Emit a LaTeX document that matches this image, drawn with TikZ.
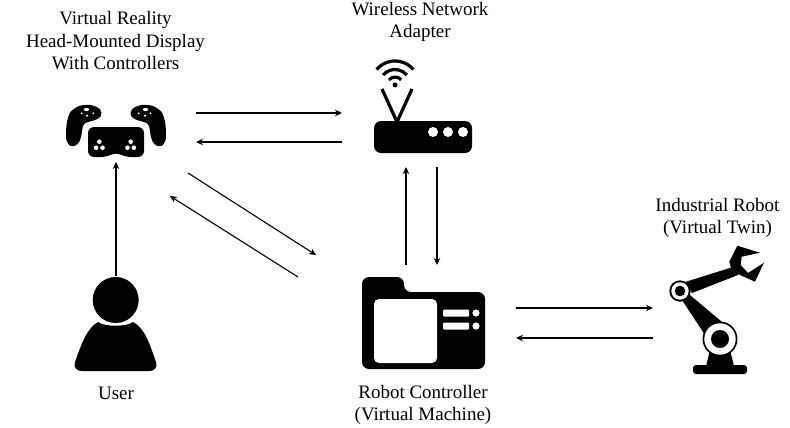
\documentclass[tikz,border=0pt]{standalone}
\usepackage{fontspec}
\setmainfont{Liberation Serif}
\usetikzlibrary{arrows.meta}
\tikzset{
	link/.style={line width=1.1pt, -{Stealth[length=7pt,width=6.5pt]}},
	caption/.style={align=center, font=\fontsize{19}{22.5}\selectfont, inner sep=0pt},
	hole/.style={fill=white, draw=none}
}
\begin{document}
\begin{tikzpicture}[x=1pt,y=-1pt]
\useasboundingbox (0,0) rectangle (790,428);

% Textos
	\node[caption] (hmdtext) at (115.5,41) {Virtual Reality\\Head-Mounted Display\\With Controllers};
	\node[caption] (adaptertext) at (420,22) {Wireless Network\\Adapter};
	\node[caption] (robottext) at (717.5,218) {Industrial Robot\\(Virtual Twin)};
	\node[caption] (usertext) at (116,393) {User};
	\node[caption] (controllertext) at (423,405) {Robot Controller\\(Virtual Machine)};

% Gafas y mandos
	\foreach \m in {1,-1} {
		\begin{scope}[shift={(116,0)},xscale=\m]
			\fill plot[smooth cycle,tension=0.8] coordinates {(-50,135) (-47.7,116.7) (-41,108.3) (-31,105) (-20,106.7) (-14.5,112.7) (-18.5,119) (-28,122) (-33,126) (-35,137) (-38.5,144) (-43.7,146) (-47.7,143.8)};
			\fill[hole] (-29.5,109.5) ellipse (2.6 and 1.7);
			\fill[hole] (-29,115.7) circle (1.2);
			\fill[hole] (-34.3,113.3) circle (1);
			\fill[hole] (-22.7,113.3) circle (1);
		\end{scope}
	}

	\fill[rounded corners=6pt] (88,127) -- (144,127) -- (144,157) -- (125,157) -- (116,152) -- (107,157) -- (88,157) -- cycle;
	\foreach \x in {99.3,130.7} {
		\fill[hole] (\x,141.7) circle (2.3);
		\fill[hole] (\x-3.2,147.7) circle (2.3);
		\fill[hole] (\x+3.2,147.7) circle (2.3);
	}

% Adaptador
	\fill[rounded corners=7pt] (374,121) rectangle (472,153);
	\foreach \x in {433,448,463}
		\fill[hole] (\x,132) circle (5);
	\draw[line width=3.2pt] (382,89) -- (397,122) -- (412,89);
	\fill (395,85) circle (2.5);
	\foreach \r in {8,15.5,24}
		\draw[line width=3.2pt] (395,85) ++(220:\r) arc (220:320:\r);

% Usuario
	\fill (115.7,300) circle (23);
	\fill (98,322) .. controls (104,327) and (127,327) .. (133,322)
		.. controls (145,328) and (150,345) .. (156,362)
		.. controls (158,368) and (154,371) .. (149,371) -- (82,371)
		.. controls (77,371) and (73,368) .. (75,362)
		.. controls (81,345) and (87,328) .. (98,322) -- cycle;

% Controlador
	\fill[rounded corners=7pt] (362,277) -- (404,277) -- (404,292) -- (485,292) -- (485,369) -- (362,369) -- cycle;
	\fill[hole,rounded corners=5pt] (374,299) rectangle (437,363);
	\foreach \y in {313,326} {
		\fill[hole,rounded corners=1pt] (443,\y-3.5) rectangle (469,\y+3.5);
		\fill[hole] (476,\y) circle (3.6);
	}

% Robot
	\fill[rounded corners=3pt] (693,365) rectangle (747,374);
	\fill (706,366) -- (710,350) -- (730,350) -- (734,366) -- cycle;
	\fill (690,295) -- (722,322) -- (705,335) -- (682,300) -- cycle;
	\fill (686,281.7) -- (733,267) -- (738,275) -- (692,293) -- cycle;
	\fill (737.3,245.7) -- (760,252.7) -- (741.7,256.7) -- (740.7,265) -- (748,273) -- (764,262.7) -- (755,281.7) -- (740,275) -- (732,272) -- (729.3,261.7) -- cycle;
	\fill (720,339) circle (17.5);
	\fill[hole] (720,339) circle (15.7);
	\fill (720,339) circle (9);
	\fill (680,291) circle (10.7);
	\fill[hole] (680,291) circle (8.7);
	\fill (680,291) circle (5.3);

% Flechas
	\coordinate (hmdright) at (196,113);
	\coordinate (adapterleft) at (342,113);
	\coordinate (adapterback) at (342,142);
	\coordinate (hmdback) at (196,142);
	\coordinate (hmdlow) at (188,173);
	\coordinate (controllertop) at (316,255);
	\coordinate (controllerback) at (298,277);
	\coordinate (hmdcorner) at (170,196);
	\coordinate (userhead) at (116,276);
	\coordinate (hmdbottom) at (116,162);
	\coordinate (controllerup) at (406,265);
	\coordinate (adapterbottom) at (406,167);
	\coordinate (adapterdown) at (437,167);
	\coordinate (controllerin) at (437,265);
	\coordinate (controllerright) at (516,308);
	\coordinate (robotin) at (653,308);
	\coordinate (robotout) at (653,338);
	\coordinate (controllerleft) at (516,338);

	\draw[link] (hmdright) -- (adapterleft);
	\draw[link] (adapterback) -- (hmdback);
	\draw[link] (hmdlow) -- (controllertop);
	\draw[link] (controllerback) -- (hmdcorner);
	\draw[link] (userhead) -- (hmdbottom);
	\draw[link] (controllerup) -- (adapterbottom);
	\draw[link] (adapterdown) -- (controllerin);
	\draw[link] (controllerright) -- (robotin);
	\draw[link] (robotout) -- (controllerleft);
\end{tikzpicture}
\end{document}
